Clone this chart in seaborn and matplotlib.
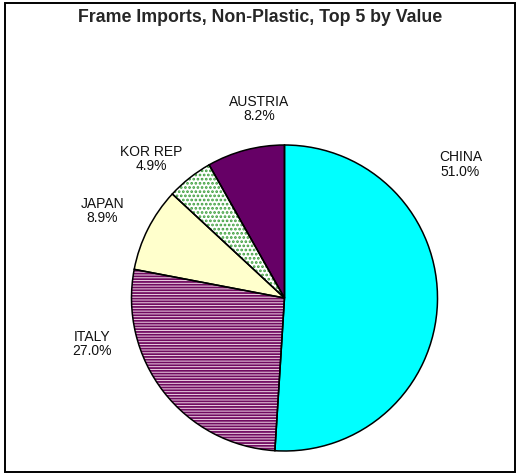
import matplotlib
matplotlib.use("Agg")
import matplotlib.pyplot as plt
from matplotlib.patches import Wedge, Rectangle
import seaborn as sns

# Frame imports (non-plastic), share of value for the top five origins
countries = ["CHINA", "ITALY", "JAPAN", "KOR REP", "AUSTRIA"]
shares = [51.0, 27.0, 8.9, 4.9, 8.2]

# Slice styling
face_colors = ["#00FFFF", "#F0D6E6", "#FFFFCC", "#FFFFFF", "#660066"]
hatch_colors = [None, "#700A60", None, "#3C9E3C", None]
hatches = [None, "------", None, "....", None]

# Label anchor points, in units of the pie radius
label_pos = [(1.150, 0.873), (-1.258, -0.300), (-1.190, 0.569),
             (-0.869, 0.908), (-0.168, 1.235)]

sns.set_theme(style="white")
plt.rcParams["font.family"] = ["Liberation Sans", "DejaVu Sans"]
plt.rcParams["hatch.linewidth"] = 1.3

W, H, DPI = 519, 474, 100
fig = plt.figure(figsize=(W / DPI, H / DPI), dpi=DPI)
fig.patch.set_facecolor("white")

# Axes spanning the whole figure; one data unit = pie radius in pixels
cx, cy, R = 284.5, 298.0, 153.0
ax = fig.add_axes([0, 0, 1, 1])

wedges, _ = ax.pie(shares, startangle=90, counterclock=False, radius=1.0,
                   colors=face_colors,
                   wedgeprops=dict(linewidth=0, edgecolor="none"))

ax.set_aspect("auto")
ax.set_xlim(-cx / R, (W - cx) / R)
ax.set_ylim(-(H - cy) / R, cy / R)
ax.axis("off")

for w, hc, ht in zip(wedges, hatch_colors, hatches):
    if ht:
        w.set_hatch(ht)
        w.set_edgecolor(hc)
        w.set_linewidth(0)
    # black outline on top of each slice
    ax.add_patch(Wedge(w.center, w.r, w.theta1, w.theta2, fill=False,
                       edgecolor="black", linewidth=1.1, zorder=5))

for name, val, (lx, ly) in zip(countries, shares, label_pos):
    ax.text(lx, ly, f"{name}\n{val:.1f}%", ha="center", va="center",
            fontsize=10, color="#111111", linespacing=1.05)

fig.text(260 / W, 1 - 17.5 / H, "Frame Imports, Non-Plastic, Top 5 by Value",
         ha="center", va="center", fontsize=12.8, fontweight="bold")

# chart border
fig.patches.append(Rectangle((5 / W, 2 / H), 510 / W, 469 / H,
                             transform=fig.transFigure, fill=False,
                             edgecolor="black", linewidth=1.4))

fig.savefig("out.png", dpi=DPI)
